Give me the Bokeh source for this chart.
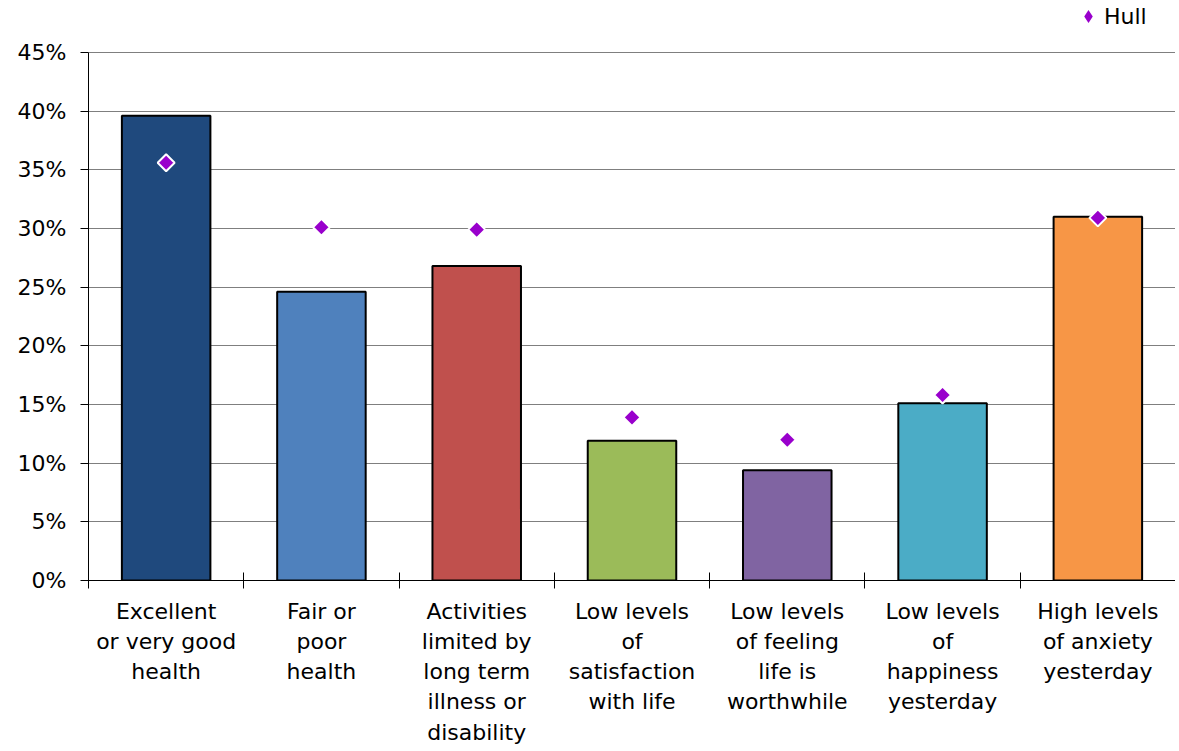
import numpy as np
from bokeh.plotting import figure
from bokeh.models import (ColumnDataSource, FixedTicker, NumeralTickFormatter,
                          Range1d, Legend, LegendItem)
from bokeh.embed import file_html
from bokeh.resources import INLINE

categories = [
    "Excellent\nor very good\nhealth",
    "Fair or\npoor\nhealth",
    "Activities\nlimited by\nlong term\nillness or\ndisability",
    "Low levels\nof\nsatisfaction\nwith life",
    "Low levels\nof feeling\nlife is\nworthwhile",
    "Low levels\nof\nhappiness\nyesterday",
    "High levels\nof anxiety\nyesterday",
]
bar_values = [0.396, 0.246, 0.268, 0.119, 0.094, 0.151, 0.310]
hull_values = [0.356, 0.301, 0.299, 0.139, 0.120, 0.158, 0.309]
bar_colors = ["#1F497D", "#4F81BD", "#C0504D", "#9BBB59", "#8064A2", "#4BACC6", "#F79646"]
y_ticks = [0.0, 0.05, 0.10, 0.15, 0.20, 0.25, 0.30, 0.35, 0.40, 0.45]

FONT = "DejaVu Sans"
FS = "22px"
HULL_COLOR = "#9900CC"
n = len(categories)
xs = [i + 0.5 for i in range(n)]

# frame spans page y 0..581; 45% sits at y=52 -> headroom above the axis for the legend
FRAME_H = 581
Y_TOP = 0.45 * FRAME_H / (FRAME_H - 52)

src = ColumnDataSource(dict(x=xs, top=bar_values, hull=hull_values, color=bar_colors))

p = figure(width=1175, height=747, output_backend="svg", toolbar_location=None,
           x_range=Range1d(0, n), y_range=Range1d(0, Y_TOP),
           min_border_left=88, min_border_right=0, min_border_top=0, min_border_bottom=166)
p.outline_line_color = None
p.background_fill_color = "white"
p.border_fill_color = "white"

p.vbar(x="x", top="top", width=0.57, bottom=0, source=src, fill_color="color",
       line_color="black", line_width=2)
# diamond-shaped key layer (sits fully under the rotated squares), used for the legend swatch
key = p.scatter(x="x", y="hull", source=src, marker="diamond", size=11,
                fill_color=HULL_COLOR, line_color=None)
p.scatter(x="x", y="hull", source=src, marker="square", angle=np.pi / 4, size=12,
          fill_color=HULL_COLOR, line_color="white", line_width=2)

# x axis
xa = p.xaxis[0]
xa.ticker = FixedTicker(ticks=xs, minor_ticks=list(range(n + 1)))
xa.major_label_overrides = {x: c for x, c in zip(xs, categories)}
xa.major_tick_line_color = None
xa.major_tick_out = 8
xa.major_tick_in = 0
xa.minor_tick_line_color = "black"
xa.minor_tick_out = 8
xa.minor_tick_in = 8
xa.axis_line_color = "black"
xa.major_label_text_font = FONT
xa.major_label_text_font_size = FS
xa.major_label_text_color = "black"
xa.major_label_text_line_height = 1.21
xa.major_label_standoff = 10

# y axis
ya = p.yaxis[0]
ya.ticker = FixedTicker(ticks=y_ticks)
ya.formatter = NumeralTickFormatter(format="0%")
ya.bounds = (0, 0.45)
ya.major_tick_out = 8
ya.major_tick_in = 0
ya.minor_tick_line_color = None
ya.axis_line_color = "black"
ya.major_tick_line_color = "black"
ya.major_label_text_font = FONT
ya.major_label_text_font_size = FS
ya.major_label_text_color = "black"
ya.major_label_standoff = 14

p.xgrid.grid_line_color = None
p.ygrid.ticker = FixedTicker(ticks=y_ticks)
p.ygrid.grid_line_color = "#7F7F7F"
p.ygrid.grid_line_width = 1

legend = Legend(items=[LegendItem(label="Hull", renderers=[key])], location=(984, 548),
                label_text_font=FONT, label_text_font_size=FS, label_text_color="black",
                glyph_width=32, glyph_height=32,
                border_line_color=None, background_fill_alpha=0, padding=0, spacing=0,
                margin=0, label_standoff=0)
p.add_layout(legend)

open("out.html", "w").write(file_html(p, INLINE))
